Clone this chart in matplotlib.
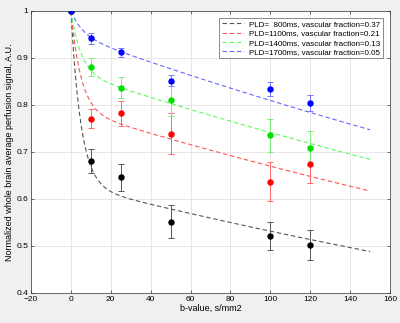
import numpy as np
import matplotlib.pyplot as plt

plt.rcParams['font.family'] = ['Liberation Sans', 'DejaVu Sans']

# measured points
b_values = [0, 10, 25, 50, 100, 120]
labels = ['PLD=  800ms, vascular fraction=0.37',
          'PLD=1100ms, vascular fraction=0.21',
          'PLD=1400ms, vascular fraction=0.13',
          'PLD=1700ms, vascular fraction=0.05']
signal_800 = [1.0, 0.681, 0.646, 0.552, 0.521, 0.502]
err_800 = [0.0, 0.025, 0.029, 0.036, 0.030, 0.032]
signal_1100 = [1.0, 0.771, 0.782, 0.739, 0.637, 0.674]
err_1100 = [0.0, 0.021, 0.027, 0.043, 0.042, 0.039]
signal_1400 = [1.0, 0.881, 0.837, 0.811, 0.736, 0.708]
err_1400 = [0.0, 0.020, 0.023, 0.035, 0.035, 0.036]
signal_1700 = [1.0, 0.942, 0.912, 0.852, 0.834, 0.804]
err_1700 = [0.0, 0.012, 0.010, 0.011, 0.014, 0.017]

# bi-exponential fit parameters
vasc_frac = [0.37, 0.21, 0.13, 0.05]
d_tissue = [0.0017, 0.00165, 0.0016, 0.0016]
d_pseudo = [0.2, 0.2, 0.2, 0.17]

colors = ['black', 'red', '#00e000', 'blue']
fit_colors = ['#555555', '#ff5555', '#55ff55', '#6666ff']
err_colors = ['#555555', '#ff6666', '#77ee77', '#7777ff']

signals = [signal_800, signal_1100, signal_1400, signal_1700]
errors = [err_800, err_1100, err_1400, err_1700]

fig = plt.figure(figsize=(4, 3.23), dpi=100, facecolor='#f0f0f0')
ax = fig.add_axes([0.0775, 0.093, 0.8975, 0.873])
ax.set_facecolor('white')

b_fit = np.arange(0, 151)
for i in range(4):
    f = vasc_frac[i]
    fit = (1 - f) * np.exp(-b_fit * d_tissue[i]) + f * np.exp(-b_fit * d_pseudo[i])
    ax.plot(b_fit, fit, '--', color=fit_colors[i], lw=0.8, dashes=(4, 2.5),
            label=labels[i], zorder=2)
for i in range(4):
    ax.errorbar(b_values, signals[i], yerr=errors[i], fmt='none',
                ecolor=err_colors[i], elinewidth=0.7, capsize=2.5, capthick=0.7, zorder=3)
    ax.plot(b_values, signals[i], 'o', color=colors[i], ms=3.6, zorder=4)

ax.set_xlim(-20, 160)
ax.set_ylim(0.4, 1.0)
ax.set_xticks(range(-20, 161, 20))
ax.set_yticks([0.4, 0.5, 0.6, 0.7, 0.8, 0.9, 1.0])
ax.set_yticklabels(['0.4', '0.5', '0.6', '0.7', '0.8', '0.9', '1'])
ax.grid(True, color='#e3e3e3', lw=0.6)
ax.set_axisbelow(True)
ax.tick_params(labelsize=6, length=2.5, width=0.5, color='#333333', direction='in',
               top=True, right=True, pad=2)
for s in ax.spines.values():
    s.set_color('#333333')
    s.set_linewidth(0.5)
ax.set_xlabel('b-value, s/mm2', fontsize=6.5, labelpad=1)
ax.set_ylabel('Normalized whole brain average perfusion signal, A.U.', fontsize=6.5, labelpad=2)

leg = ax.legend(loc='upper right', fontsize=5.8, frameon=True, fancybox=False,
                borderaxespad=0.9, handlelength=2.8, labelspacing=0.2, borderpad=0.3,
                handletextpad=0.6)
leg.get_frame().set_edgecolor('#333333')
leg.get_frame().set_linewidth(0.5)

fig.savefig('out.png', dpi=100, facecolor=fig.get_facecolor())
